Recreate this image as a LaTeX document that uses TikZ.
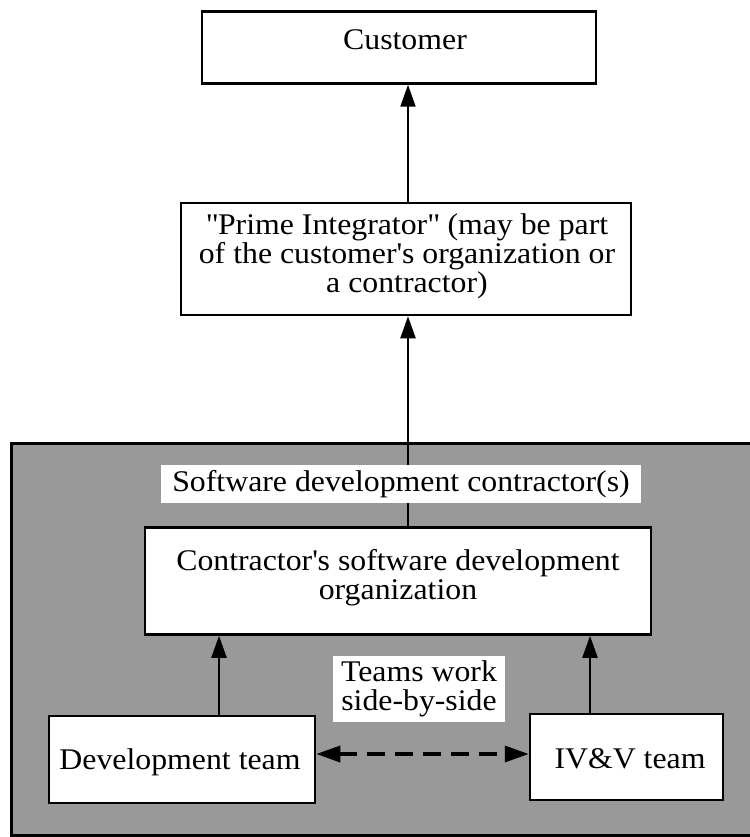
\documentclass[tikz,border=0pt]{standalone}
\usepackage{fontspec}
\setmainfont[FakeStretch=1.06]{Liberation Serif}
\usetikzlibrary{arrows.meta}
\begin{document}
\begin{tikzpicture}[x=1pt,y=-1pt,
  box/.style={draw,line width=2.5pt,fill=white,inner sep=0pt},
  txt/.style={font=\fontsize{30}{29}\selectfont,align=center,inner sep=0pt},
  arr/.style={line width=2.2pt,-{Triangle[length=22pt,width=15pt]}},
  dbl/.style={line width=3.5pt,dash pattern=on 18pt off 10pt,{Triangle[length=24pt,width=16pt]}-{Triangle[length=24pt,width=16pt]}},
]
\useasboundingbox (0,0) rectangle (749,837);
% shaded zone
\node[draw,line width=2.5pt,fill=black!40,inner sep=0pt,minimum width=750pt,minimum height=392pt,anchor=north west] (zone) at (10,442) {};
% boxes
\node[box,minimum width=394pt,minimum height=72pt] (cust) at (399,47.5) {};
\node[txt] (custt) at (405,40) {Customer};
\node[box,minimum width=450pt,minimum height=112pt] (prime) at (406,259) {};
\node[txt] (primet) at (407,256) {\textquotedbl Prime Integrator\textquotedbl{} (may be part\\of the customer\textquotesingle s organization or\\a contractor)};
\node[box,minimum width=506pt,minimum height=107pt] (contr) at (398,581) {};
\node[txt] (contrt) at (398,578) {Contractor\textquotesingle s software development\\organization};
\node[box,minimum width=266pt,minimum height=87pt] (dev) at (182,759.5) {};
\node[txt] (devt) at (180,762) {Development team};
\node[box,minimum width=193pt,minimum height=86pt] (ivv) at (626.5,757) {};
\node[txt] (ivvt) at (630,759) {IV\&V team};
% connectors
\draw[arr] (prime.north -| 408,0) -- (cust.south -| 408,0);
\draw[arr] (contr.north -| 408,0) -- (prime.south -| 408,0);
\draw[arr] (dev.north -| 219,0) -- (contr.south -| 219,0);
\draw[arr] (ivv.north -| 590,0) -- (contr.south -| 590,0);
\draw[dbl] (dev.east |- 0,754) -- (ivv.west |- 0,754);
% labels with white background
\node[txt,fill=white,inner xsep=11pt,inner ysep=5pt] (sdc) at (401,484) {Software development contractor(s)};
\node[txt,fill=white,inner xsep=8pt,inner ysep=5pt] (teams) at (419,689) {Teams work\\side-by-side};
\end{tikzpicture}
\end{document}
